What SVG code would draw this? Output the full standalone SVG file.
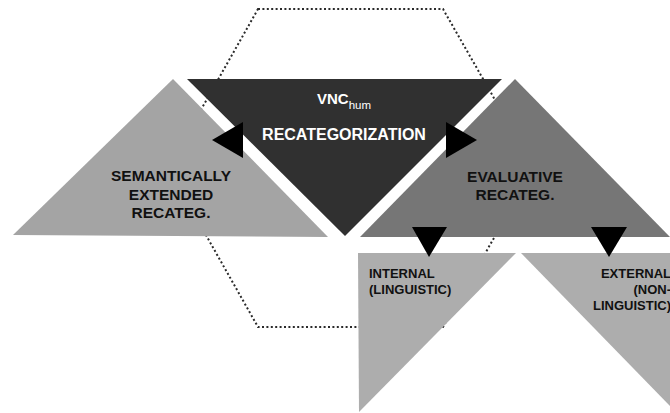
<svg xmlns="http://www.w3.org/2000/svg" width="670" height="413" viewBox="0 0 670 413">
<style>
.lbl{font-family:"Liberation Sans",Arial,sans-serif;font-weight:bold;fill:#111}
.big{font-size:15.5px}
.small{font-size:13px}
.white{fill:#fff}
.hex{fill:none;stroke:#2a2a2a;stroke-width:2;stroke-dasharray:2 2.4}
.arr{fill:#000}
</style>
<rect width="670" height="413" fill="#fff"/>
<g id="frame">
<polygon class="hex" points="258,9 443,9 534,168 443,327 258,327 168,168"/>
</g>
<g id="semantic">
<polygon points="173,79 328,237 13,235" fill="#a4a4a4"/>
<text class="lbl big" text-anchor="middle" x="171" y="181">SEMANTICALLY</text>
<text class="lbl big" text-anchor="middle" x="171" y="200">EXTENDED</text>
<text class="lbl big" text-anchor="middle" x="171" y="218">RECATEG.</text>
</g>
<g id="evaluative">
<polygon points="515,79 670,237 360,237" fill="#767676"/>
<text class="lbl big" text-anchor="middle" x="515" y="182">EVALUATIVE</text>
<text class="lbl big" text-anchor="middle" x="515" y="200">RECATEG.</text>
</g>
<g id="vnc">
<polygon points="187,79 502,79 345,236" fill="#303030"/>
<text class="lbl white" font-size="15" x="317" y="104">VNC<tspan font-size="11.5" font-weight="normal" dy="5">hum</tspan></text>
<text class="lbl white" font-size="16" text-anchor="middle" x="344" y="140">RECATEGORIZATION</text>
</g>
<g id="internal">
<polygon points="358,253 516,253 359,412" fill="#adadad"/>
<text class="lbl small" x="369" y="278">INTERNAL</text>
<text class="lbl small" x="369" y="294">(LINGUISTIC)</text>
</g>
<g id="external">
<polygon points="521,253 670,253 670,406" fill="#adadad"/>
<text class="lbl small" text-anchor="end" x="671" y="278">EXTERNAL</text>
<text class="lbl small" text-anchor="end" x="671" y="294">(NON-</text>
<text class="lbl small" text-anchor="end" x="671" y="310">LINGUISTIC)</text>
</g>
<g id="connectors">
<polygon class="arr" points="212,140 243,122 243,158"/>
<polygon class="arr" points="477,140 446,122 446,158"/>
<polygon class="arr" points="412,227 447,227 429,257"/>
<polygon class="arr" points="591,227 627,227 609,257"/>
</g>
</svg>
